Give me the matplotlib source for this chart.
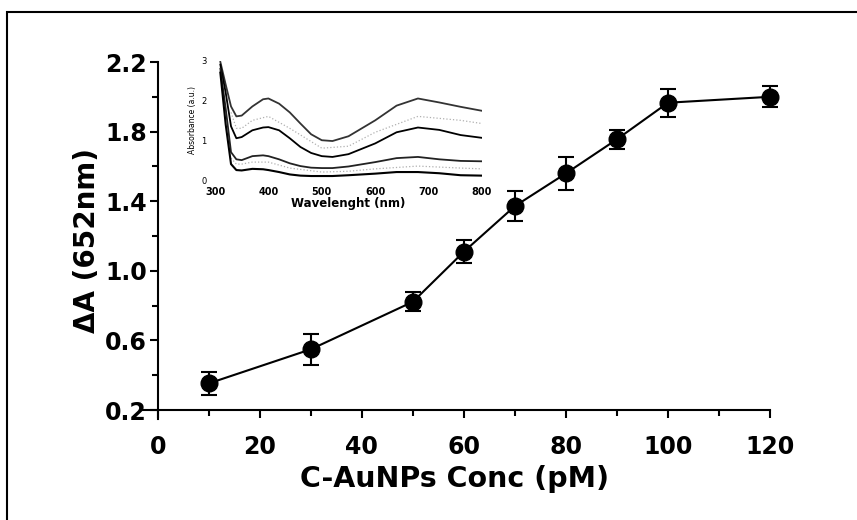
import matplotlib
matplotlib.use('Agg')
import matplotlib.pyplot as plt
from matplotlib.patches import Rectangle
from matplotlib.ticker import MultipleLocator

plt.rcParams['font.family'] = ['DejaVu Sans']

# main data: dA at 652 nm vs C-AuNPs concentration
conc = [10, 30, 50, 60, 70, 80, 90, 100, 120]
dA = [0.353, 0.549, 0.822, 1.11, 1.372, 1.56, 1.756, 1.966, 2.0]
dA_err = [0.067, 0.09, 0.055, 0.065, 0.086, 0.095, 0.055, 0.08, 0.06]

# inset spectra
wl = [310, 320, 330, 340, 350, 370, 390, 400, 420, 440, 460, 480, 500,
      520, 550, 600, 640, 680, 720, 760, 800]
spec_a = [2.97, 2.4, 1.85, 1.6, 1.62, 1.85, 2.03, 2.05, 1.92, 1.7, 1.42,
          1.15, 1.0, 0.98, 1.1, 1.5, 1.87, 2.05, 1.95, 1.84, 1.74]
spec_b = [2.9, 2.2, 1.35, 1.05, 1.08, 1.25, 1.32, 1.33, 1.25, 1.05, 0.83,
          0.68, 0.6, 0.58, 0.65, 0.92, 1.2, 1.32, 1.26, 1.13, 1.06]
spec_c = [2.8, 1.8, 0.7, 0.52, 0.5, 0.6, 0.62, 0.6, 0.52, 0.42, 0.35,
          0.31, 0.3, 0.3, 0.34, 0.45, 0.55, 0.58, 0.52, 0.48, 0.47]
spec_d = [2.7, 1.4, 0.4, 0.25, 0.24, 0.28, 0.27, 0.25, 0.2, 0.14, 0.11,
          0.1, 0.1, 0.1, 0.12, 0.16, 0.2, 0.2, 0.17, 0.12, 0.11]
wl_gray = [330, 340, 350, 370, 400, 440, 500, 550, 600, 680, 760, 800]
spec_e = [1.7, 1.3, 1.3, 1.5, 1.6, 1.3, 0.8, 0.85, 1.2, 1.6, 1.5, 1.42]
spec_f = [0.55, 0.4, 0.4, 0.45, 0.45, 0.3, 0.2, 0.22, 0.28, 0.35, 0.3, 0.28]

fig = plt.figure(figsize=(8.57, 5.2), dpi=100)

# outer frame
fig.patches.append(Rectangle((7 / 857, -0.02), 1.02, 1 - 12 / 520 + 0.02,
                             transform=fig.transFigure, fill=False,
                             edgecolor='black', linewidth=1.5))

ax = fig.add_axes([140 / 857, 1 - 418.7 / 520, 630 / 857, 356.7 / 520])
ax.errorbar(conc, dA, yerr=dA_err, fmt='-o', color='black', markersize=12,
            linewidth=1.5, elinewidth=1.5, capsize=6, capthick=1.5,
            clip_on=False, zorder=3)
ax.set_xlim(-3.5, 120)
ax.set_ylim(0.15, 2.2)
ax.spines['top'].set_visible(False)
ax.spines['right'].set_visible(False)
ax.spines['left'].set_position(('data', 0))
ax.spines['bottom'].set_position(('data', 0.2))
ax.spines['left'].set_linewidth(1.5)
ax.spines['bottom'].set_linewidth(1.5)
ax.xaxis.set_major_locator(MultipleLocator(20))
ax.xaxis.set_minor_locator(MultipleLocator(10))
ax.set_yticks([0.2, 0.6, 1.0, 1.4, 1.8, 2.2])
ax.yaxis.set_minor_locator(MultipleLocator(0.2))
ax.tick_params(which='major', direction='out', length=6, width=1.5,
               labelsize=17)
ax.tick_params(axis='x', which='major', pad=12)
ax.tick_params(axis='y', which='major', pad=2)
ax.tick_params(which='minor', direction='out', length=4, width=1.5)
for lab in ax.get_xticklabels() + ax.get_yticklabels():
    lab.set_fontweight('bold')
ax.set_xlabel('C-AuNPs Conc (pM)', fontsize=20.5, fontweight='bold', labelpad=4)
ax.set_ylabel('ΔA (652nm)', fontsize=20, fontweight='bold', labelpad=3)

# inset
ins = fig.add_axes([215 / 857, 1 - 180 / 520, 267 / 857, 119.3 / 520])
ins.plot(wl_gray, spec_e, color='#b0b0b0', linewidth=0.9, linestyle=':')
ins.plot(wl_gray, spec_f, color='#b0b0b0', linewidth=0.9, linestyle=':')
ins.plot(wl, spec_a, color='#333333', linewidth=1.3)
ins.plot(wl, spec_b, color='black', linewidth=1.3)
ins.plot(wl, spec_c, color='#222222', linewidth=1.3)
ins.plot(wl, spec_d, color='black', linewidth=1.5)
ins.set_xlim(300, 800)
ins.set_ylim(0, 3)
for s in ins.spines.values():
    s.set_visible(False)
ins.set_xticks([300, 400, 500, 600, 700, 800])
ins.set_yticks([0, 1, 2, 3])
ins.tick_params(axis='x', length=0, labelsize=7, pad=5)
ins.tick_params(axis='y', length=0, labelsize=6, pad=6)
for lab in ins.get_xticklabels():
    lab.set_fontweight('bold')
ins.set_xlabel('Wavelenght (nm)', fontsize=8.5, fontweight='bold', labelpad=0)
ins.set_ylabel('Absorbance (a.u.)', fontsize=5.5, labelpad=3)
ins.patch.set_alpha(0)

fig.savefig('out.png', dpi=100)
